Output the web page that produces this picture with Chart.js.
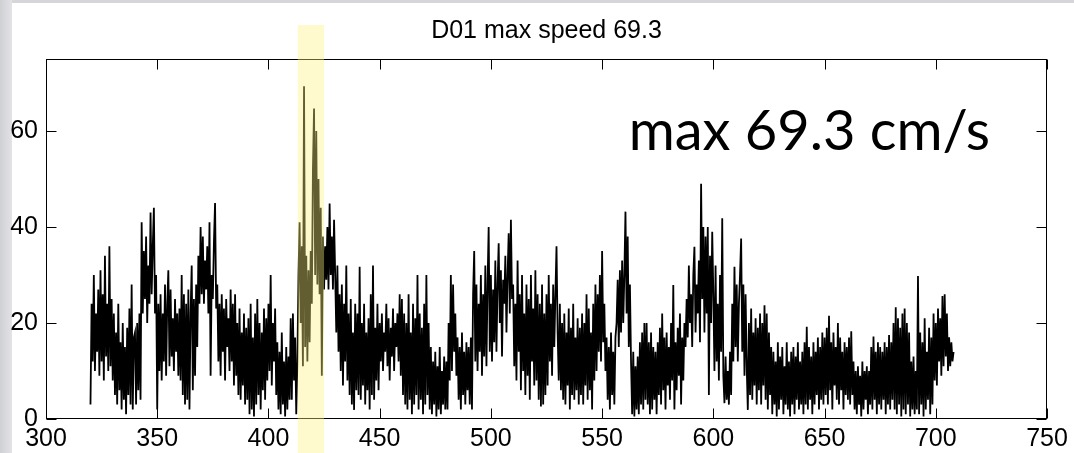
<!DOCTYPE html>
<html><head><meta charset="utf-8">
<script src="https://cdn.jsdelivr.net/npm/chart.js@4.4.0/dist/chart.umd.min.js"></script>
<style>html,body{margin:0;padding:0;background:#fff;overflow:hidden}#wrap{width:1074px;height:453px;position:relative}</style>
</head><body><div id="wrap"><canvas id="c" width="1074" height="453"></canvas></div>
<script>
const chartTitle = 'D01 max speed 69.3';
const annotationText = 'max 69.3 cm/s';
const timeStart = 320;
const timeStep = 0.5;
const speed = [
3,24,12,30,10,22,14,27,9,31,12,26,8,34,13,24,10,36,11,25,
8,22,5,18,3,24,6,16,2,20,4,15,1,19,5,23,3,28,2,17,
18,3,20,6,22,4,41,22,35,25,38,20,32,24,43,26,36,44,22,30,
2,24,10,26,8,22,12,28,9,24,31,11,27,13,21,10,25,14,22,9,
23,8,30,5,26,3,24,4,27,2,22,32,6,25,9,28,15,34,24,40,
26,38,24,33,27,36,22,41,9,30,25,37,45,23,28,12,24,9,26,14,
23,8,25,15,21,10,27,12,24,7,26,9,20,5,23,4,18,7,22,3,
19,4,21,1,24,2,17,0.5,22,3,25,5,20,2,18,6,23,4,21,8,
24,10,30,7,20,12,23,5,16,2,14,1,18,3,12,0.5,15,2,13,4,
21,4,22,8,17,1,12,30,41,20,36,11,69.3,15,34,12,31,16,35,24,
52,64.7,30,60,28,50,26,44,9,38,27,36,29,40,27,44.9,30,38,27,41.5,
30,18,32,14,26,10,28,7,24,12,32,8,22,5,25,3,18,1.9,24,6,
22,5,31.7,4,20,7,24,3,18,6,21,2,26,5,32,4,19,8,24,6,
20,12,22,10,18,14,24,11,21,8,19,13,23,10,20,15,22,12,26,9,
25,5,22,3,20,2,26,4,18,1,24,3,21,5,30,2,22,4,19,1,
24,3,30,5,20,2,15,1,12,3,14,0.5,11,2,15,1,10,3,13,2,
12,2,20,8,30,10,28,14,22,9,17,4,15,2,18,5,14,3,16,6,
15,3,17,2,26,35,12,28,10,24,14,30,9,26,13,32,11,28,40,14,
30,12,27,16,33,14,28,36.6,20,31,13,29,24,34,18,30,38.7,22,41.5,25,
28,11,24,8,33,14,26,6,30,10,22,5,28,9,25,4,30,12,23,7,
31,8,26,4,24,2.6,28,3,22,5,26,7,30,12,24,9,28,15,26,36,
18,8,24,6,20,4,22,3,18,7,23,2,19,5,24,4,17,6,21,3,
19,5,22,3,20,7,26,4,23,6,18,2,24,8,28,10,26,14,30,12,
35,16,24,10,17,4,15,2,18,5,14,3,17,20,29,15,31,18,33,20,
30,43.2,22,38,15,28,12,1,14,0.5,11,2,13,1,16,3,18,2,20,4,
20,3,16,1,18,2,15,4,14,1,16,5,19,3,22,6,17,2,18,7,
15,4,20,8,27.9,2,16,6,19,9,22,3,17,8,20,15,25,17,32,20,
26,15,30,35.9,18,28,22,33,16,49,25,40,18,38,22,40,5,34,20,39,
26,10,32,12,24,8,30,14,41.8,9,3.3,13,4,10,3,14,5,24,12,31.7,
15,28,12,24,30,37.6,14,28,9,26,11,1.9,20,5,23,4,18,7,21,3,
19,6,22,3,20,7,23.7,4,22,2,18,5,15,1,14,3,12,0.5,16,2,
13,4,15,1,11,3,16,2,12,0.5,14,3,15,1,13,4,16,2,12,3,
14,1,16,3,19.2,2,15,4,13,1,16,3,14,5,17,2,15,4,18,3,
17,5,19,3,21.5,6,16,2,18,7,15,4,20,3,17,6,14,2,16,5,
15,4,17,3,18.3,5,12,2,10,1,11,3,9,0.5,12,2,10,4,11,1,
10,3,15,2,17.2,4,14,1,16,3,15,2,14,4,16,1,15,3,17.5,2,
16,4,20,2,23.3,1,21,3,19,0.5,22,2,23,1,20,3,18,0.5,12,2,
13,1,10,2,29.8,1,18,3,16,0.5,21,2,14,4,19,1,17,3,22,8,
20,7,23,12,21,9,25.6,11,26,13,22,10,17,11,16,12,14
];
const xTicks = [300,350,400,450,500,550,600,650,700,750];
const yTicks = [0,20,40,60];
const xRange = [300,750];
const yRange = [0,75];
const highlightRange = [413.2,425.0];

const points = speed.map((v,i)=>({x: timeStart + i*timeStep, y: v}));

const framePlugin = {
  id:'frame',
  beforeDraw(chart){
    const ctx = chart.ctx;
    ctx.save();
    const g = ctx.createLinearGradient(0,0,12,0);
    g.addColorStop(0,'#cfd0d4'); g.addColorStop(1,'#e3e3e7');
    ctx.fillStyle = g; ctx.fillRect(0,0,chart.width,chart.height);
    ctx.fillStyle = '#d6d6da'; ctx.fillRect(12,0,chart.width-12,3);
    ctx.fillStyle = '#ffffff'; ctx.fillRect(12,3,chart.width-12,chart.height-3);
    ctx.restore();
  },
  afterDatasetsDraw(chart){
    const ctx = chart.ctx, a = chart.chartArea;
    const xs = chart.scales.x, ys = chart.scales.y;
    ctx.save();
    ctx.strokeStyle = '#000'; ctx.lineWidth = 1;
    const L = Math.round(a.left)+0.5, R = Math.round(a.right)-0.5, T = Math.round(a.top)+0.5, B = Math.round(a.bottom)-0.5;
    ctx.strokeRect(L, T, R-L, B-T);
    ctx.beginPath();
    xTicks.forEach(v=>{
      const px = Math.round(xs.getPixelForValue(v))+0.5;
      ctx.moveTo(px,B); ctx.lineTo(px,B-10);
      ctx.moveTo(px,T); ctx.lineTo(px,T+10);
    });
    yTicks.forEach(v=>{
      const py = Math.round(ys.getPixelForValue(v))+0.5;
      ctx.moveTo(L,py); ctx.lineTo(L+10,py);
      ctx.moveTo(R,py); ctx.lineTo(R-10,py);
    });
    ctx.stroke();
    ctx.fillStyle = '#000';
    ctx.font = '25px "Liberation Sans", Arial, sans-serif';
    ctx.textAlign = 'center'; ctx.textBaseline = 'alphabetic';
    ctx.fillText(chartTitle, (a.left+a.right)/2, 38);
    ctx.font = '56px Lato, "Open Sans", sans-serif';
    ctx.textAlign = 'right';
    ctx.fillText(annotationText, 990, 150);
    ctx.restore();
  },
  afterDraw(chart){
    const ctx = chart.ctx, xs = chart.scales.x;
    const x1 = xs.getPixelForValue(highlightRange[0]);
    const x2 = xs.getPixelForValue(highlightRange[1]);
    ctx.save();
    ctx.fillStyle = 'rgba(255,243,128,0.39)';
    ctx.fillRect(x1, 25, x2-x1, chart.height-25);
    ctx.restore();
  }
};

function build(){
  new Chart(document.getElementById('c'), {
    type:'line',
    data:{datasets:[{data:points, borderColor:'#000', borderWidth:1.8, pointRadius:0, tension:0, fill:false, borderJoinStyle:'miter'}]},
    options:{
      responsive:false, animation:false, events:[],
      layout:{padding:{left:0,right:27,top:59,bottom:0}},
      plugins:{legend:{display:false}, tooltip:{enabled:false}, title:{display:false}},
      scales:{
        x:{type:'linear', min:xRange[0], max:xRange[1],
          afterBuildTicks: ax=>{ ax.ticks = xTicks.map(v=>({value:v})); },
          afterFit: ax=>{ ax.height = 34; },
          grid:{display:false, drawTicks:false}, border:{display:false},
          ticks:{autoSkip:false, maxRotation:0, padding:5, color:'#000', font:{family:'"Liberation Sans", Arial, sans-serif', size:25}}
        },
        y:{type:'linear', min:yRange[0], max:yRange[1],
          afterBuildTicks: ax=>{ ax.ticks = yTicks.map(v=>({value:v})); },
          afterFit: ax=>{ ax.width = 46; },
          grid:{display:false, drawTicks:false}, border:{display:false},
          ticks:{autoSkip:false, padding:8, color:'#000', font:{family:'"Liberation Sans", Arial, sans-serif', size:25}}
        }
      }
    },
    plugins:[framePlugin]
  });
}
const fontsReady = document.fonts ? Promise.all([document.fonts.load('56px Lato'), document.fonts.load('25px "Liberation Sans"')]) : Promise.resolve();
Promise.race([fontsReady, new Promise(r=>setTimeout(r,1500))]).then(build, build);
</script>
</body></html>
